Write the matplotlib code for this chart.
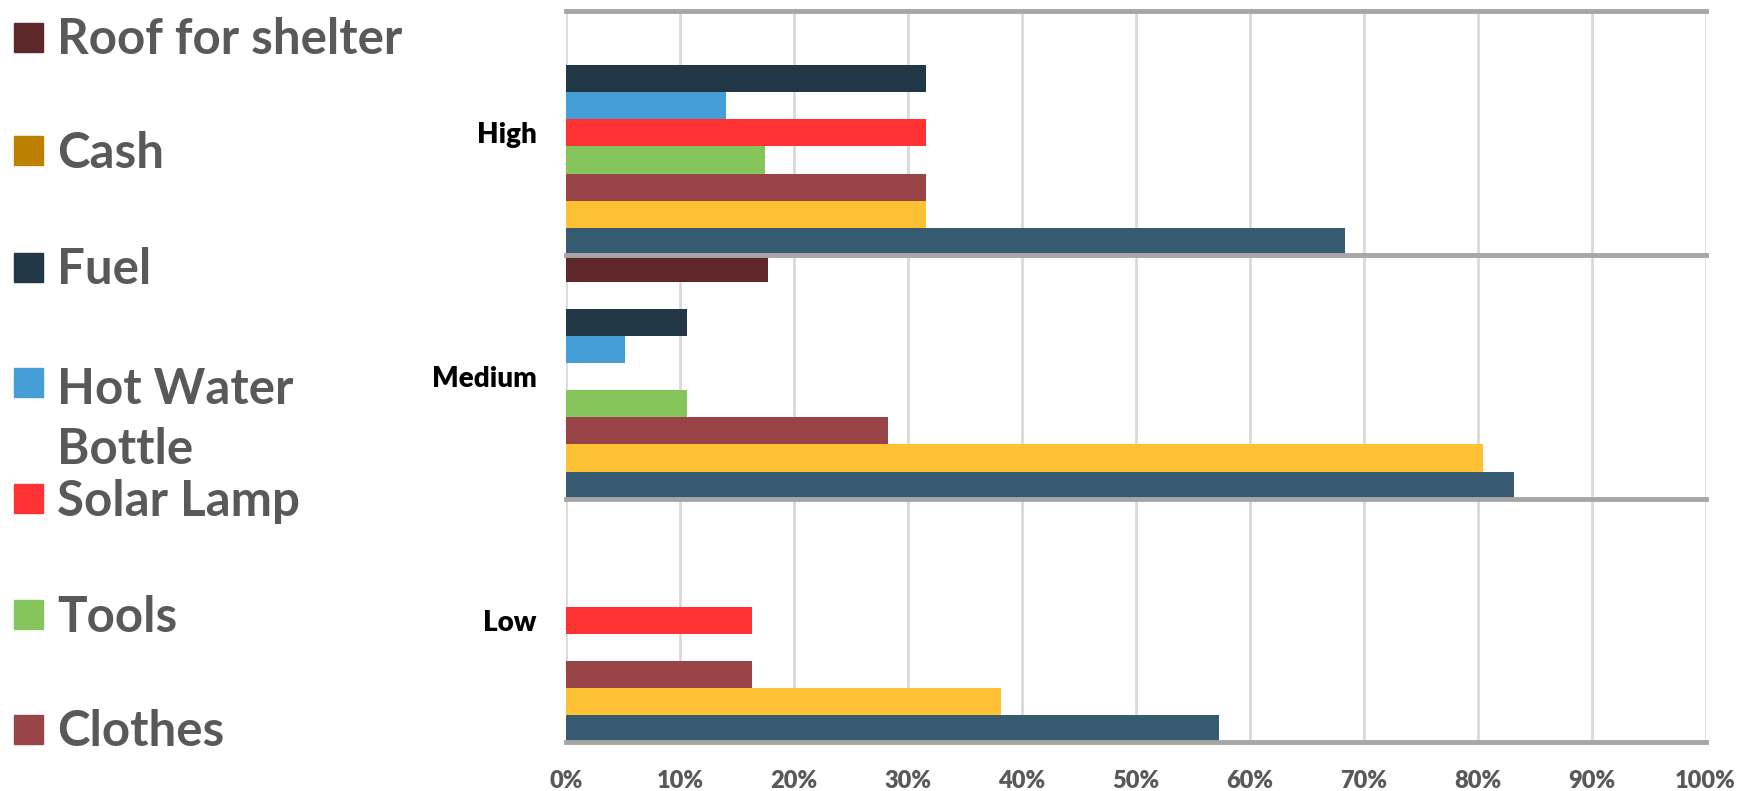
import matplotlib
matplotlib.use('Agg')
import matplotlib.pyplot as plt
from matplotlib.patches import Rectangle
import numpy as np

# priority levels, top to bottom on the chart
levels = ['High', 'Medium', 'Low']

# item series, top to bottom inside each level (shares as %)
roof_for_shelter = [0.0, 17.7, 0.0]
cash = [0.0, 0.0, 0.0]
fuel = [31.6, 10.6, 0.0]
hot_water_bottle = [14.0, 5.2, 0.0]
solar_lamp = [31.6, 0.0, 16.3]
tools = [17.5, 10.6, 0.0]
clothes = [31.6, 28.3, 16.3]
series_8 = [31.6, 80.5, 38.2]
series_9 = [68.4, 83.2, 57.3]

series = [roof_for_shelter, cash, fuel, hot_water_bottle, solar_lamp,
          tools, clothes, series_8, series_9]
legend_labels = ['Roof for shelter', 'Cash', 'Fuel', 'Hot Water\nBottle',
                 'Solar Lamp', 'Tools', 'Clothes']
colors = ['#5e272a', '#ffc134', '#213745', '#459fd6', '#ff3333',
          '#85c55b', '#994446', '#ffc134', '#365b70']
legend_colors = ['#5e272a', '#bd8000', '#213745', '#459fd6', '#ff3333',
                 '#85c55b', '#994446']
xticks = np.arange(0, 101, 10)

plt.rcParams['font.family'] = ['Lato', 'DejaVu Sans']

W, H = 1743, 791
fig = plt.figure(figsize=(W / 100, H / 100), dpi=100)
fig.patch.set_facecolor('white')

ax = fig.add_axes([566 / W, 1 - 742.5 / H, (1705.5 - 566) / W, (742.5 - 11) / H])

n = len(series)
slot = 1.0 / n
centers = np.array([2, 1, 0])
for i, (vals, col) in enumerate(zip(series, colors)):
    y = centers + 0.5 - (i + 0.5) * slot
    ax.barh(y, vals, height=slot, color=col, zorder=3)

ax.set_xlim(0, 100)
ax.set_ylim(-0.5, 2.5)

# vertical gridlines
for x in xticks:
    ax.axvline(x, color='#d9d9d9', lw=2, zorder=1)
# group separators
for yb in [-0.5, 0.5, 1.5, 2.5]:
    ax.axhline(yb, color='#a6a6a6', lw=3.5, zorder=4, clip_on=False)

for s in ax.spines.values():
    s.set_visible(False)

ax.set_xticks(xticks)
ax.set_xticklabels([f'{x}%' for x in xticks], fontsize=17, fontweight='heavy',
                   color='#595959')
ax.set_yticks(centers)
ax.set_yticklabels(levels, fontsize=20, fontweight='heavy', color='black')
ax.tick_params(axis='x', length=0, pad=20)
ax.tick_params(axis='y', length=0, pad=21)

# legend on the left, drawn in pixel coordinates
leg_y = [37, 150, 267, 382, 498, 614, 729]
sq = 29
line_gap = 64
for lab, col, yc in zip(legend_labels, legend_colors, leg_y):
    fig.patches.append(Rectangle((14 / W, 1 - (yc + sq / 2) / H), sq / W, sq / H,
                                 transform=fig.transFigure, color=col))
    # baseline alignment uses the last line of a wrapped label
    extra = lab.count('\n') * line_gap
    fig.text(57 / W, 1 - (yc + 17.5 + extra) / H, lab, fontsize=35.5,
             fontweight='bold', color='#595959', va='baseline', ha='left',
             linespacing=1.4)

fig.savefig('out.png', dpi=100, facecolor='white')
